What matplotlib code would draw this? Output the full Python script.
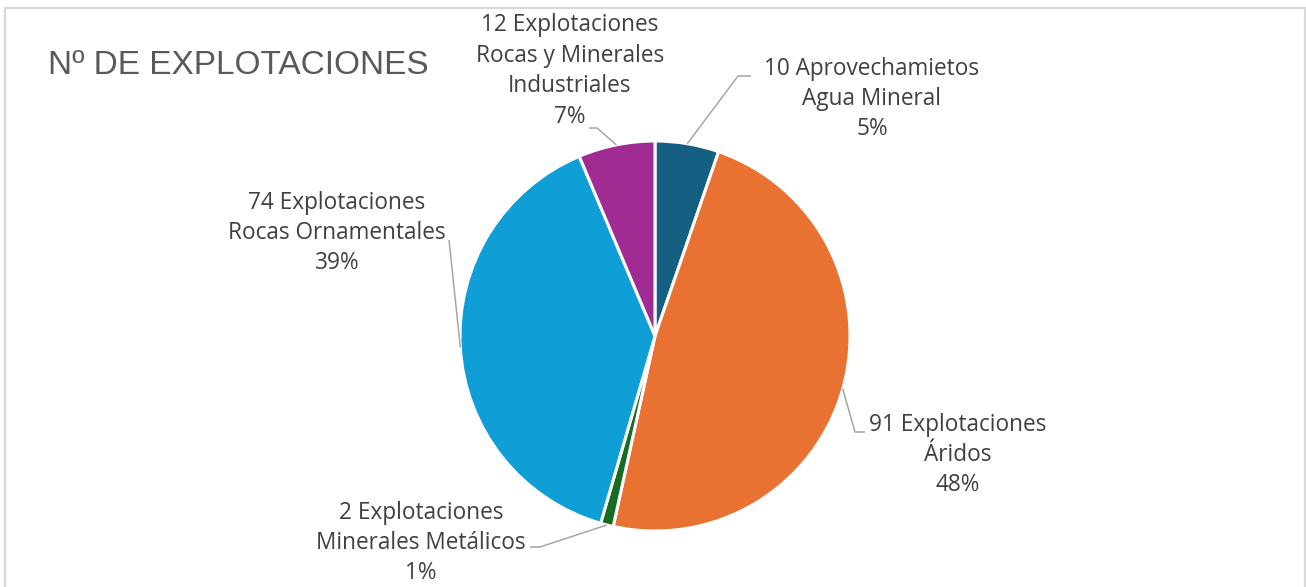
import numpy as np
import matplotlib.pyplot as plt
from matplotlib.patches import Rectangle

# data
counts = [10, 91, 2, 74, 12]
names = ["Aprovechamietos\nAgua Mineral",
         "Explotaciones\nÁridos",
         "Explotaciones\nMinerales Metálicos",
         "Explotaciones\nRocas Ornamentales",
         "Explotaciones\nRocas y Minerales\nIndustriales"]
pct_labels = ["5%", "48%", "1%", "39%", "7%"]
colors = ["#156082", "#E97132", "#196B24", "#0F9ED5", "#A02B93"]

W, H = 1306, 587
CX, CY, R = 655, 336, 195


def px(x, y):
    # pixel (from top-left) -> data units (pie radius 1)
    return (x - CX) / R, (CY - y) / R


fig = plt.figure(figsize=(W / 100, H / 100), dpi=100)
ax = fig.add_axes([0, 0, 1, 1])

wedges, _ = ax.pie(counts, colors=colors, startangle=90, counterclock=False,
                   radius=1, center=(0, 0), frame=True,
                   wedgeprops=dict(edgecolor="white", linewidth=2.2))
ax.set_xlim(-CX / R, (W - CX) / R)
ax.set_ylim((CY - H) / R, CY / R)
ax.set_aspect("auto")
ax.axis("off")

# chart border
fig.patches.append(Rectangle((4.5 / W, -0.1), (W - 6) / W, 1.1 - 8 / H,
                             transform=fig.transFigure, fill=False,
                             edgecolor="#D9D9D9", linewidth=1.6))

ax.text(*px(48, 66), "Nº DE EXPLOTACIONES", fontsize=24, color="#595959",
        family="Liberation Sans", ha="left", va="center")

# label layout: (text centre px, elbow px, line end px)
layout = [
    ((872, 99), (738, 76), (751, 76)),
    ((958, 455), (855, 432), (865, 432)),
    ((421, 543), (540, 547), (530, 547)),
    ((337, 233), (449, 240), (449, 240)),
    ((570, 71), (597, 128), (589, 128)),
]

for w, c, lab, pct, (tpos, elbow, end) in zip(wedges, counts, names, pct_labels, layout):
    ang = np.deg2rad((w.theta1 + w.theta2) / 2)
    ax_, ay_ = np.cos(ang), np.sin(ang)
    ex, ey = px(*elbow)
    fx, fy = px(*end)
    ax.plot([ax_, ex, fx], [ay_, ey, fy], color="#A6A6A6", linewidth=1.1,
            solid_capstyle="butt")
    ax.text(*px(*tpos), f"{c} {lab}\n{pct}", fontsize=16.3, color="#404040",
            family="Open Sans", ha="center", va="center", linespacing=1.36)

fig.savefig("out.png", dpi=100)
